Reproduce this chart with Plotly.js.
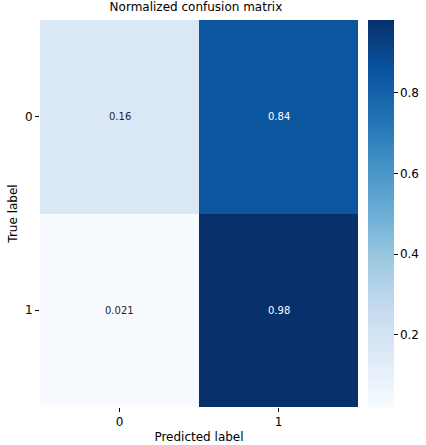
<!DOCTYPE html>
<html>
<head>
<meta charset="utf-8">
<script src="https://cdn.plot.ly/plotly-3.0.1.min.js"></script>
<style>html,body{margin:0;padding:0;background:#fff;}#chart{width:426px;height:445px;}</style>
</head>
<body>
<div id="chart"></div>
<script>
var xLabels = ["0", "1"];
var yLabels = ["0", "1"];
var values = [
  [0.16, 0.84],
  [0.021, 0.98]
];
var valueText = [
  ["0.16", "0.84"],
  ["0.021", "0.98"]
];
var colorbarTicks = [0.2, 0.4, 0.6, 0.8];
var colorbarTickText = ["0.2", "0.4", "0.6", "0.8"];

var blues = [
  [0.0, "#f7fbff"], [0.125, "#deebf7"], [0.25, "#c6dbef"], [0.375, "#9ecae1"],
  [0.5, "#6baed6"], [0.625, "#4292c6"], [0.75, "#2171b5"], [0.875, "#08519c"], [1.0, "#08306b"]
];
var zmin = Math.min.apply(null, values.map(function(r){return Math.min.apply(null, r);}));
var zmax = Math.max.apply(null, values.map(function(r){return Math.max.apply(null, r);}));

var annotations = [];
for (var i = 0; i < yLabels.length; i++) {
  for (var j = 0; j < xLabels.length; j++) {
    var v = values[i][j];
    var frac = (v - zmin) / (zmax - zmin);
    annotations.push({
      x: xLabels[j], y: yLabels[i], xref: "x", yref: "y",
      text: valueText[i][j], showarrow: false,
      font: {family: "DejaVu Sans", size: 10, color: frac > 0.5 ? "#ffffff" : "#262626"}
    });
  }
}

var trace = {
  type: "heatmap",
  x: xLabels, y: yLabels, z: values,
  colorscale: blues, zmin: zmin, zmax: zmax,
  xgap: 0, ygap: 0, hoverinfo: "none",
  colorbar: {
    x: 1.031, xanchor: "left", xpad: 0, ypad: 0,
    y: 0.5, yanchor: "middle", len: 1, lenmode: "fraction",
    thickness: 26, outlinewidth: 0,
    tickvals: colorbarTicks, ticktext: colorbarTickText,
    ticks: "outside", ticklen: 4, tickcolor: "#000",
    tickfont: {family: "DejaVu Sans", size: 12, color: "#000"}
  }
};

var layout = {
  width: 426, height: 445,
  margin: {l: 40, r: 68, t: 20, b: 38, autoexpand: false},
  paper_bgcolor: "#fff", plot_bgcolor: "#fff",
  title: {text: "Normalized confusion matrix", font: {family: "DejaVu Sans", size: 12, color: "#000"}, x: 0.46, xanchor: "center", y: 0.995, yanchor: "top"},
  xaxis: {
    type: "category", showgrid: false, zeroline: false, showline: false,
    ticks: "outside", ticklen: 4, tickcolor: "#000",
    tickfont: {family: "DejaVu Sans", size: 12, color: "#000"},
    title: {text: "Predicted label", font: {family: "DejaVu Sans", size: 12, color: "#000"}, standoff: 4}
  },
  yaxis: {
    type: "category", autorange: "reversed", showgrid: false, zeroline: false, showline: false,
    ticks: "outside", ticklen: 4, tickcolor: "#000",
    tickfont: {family: "DejaVu Sans", size: 12, color: "#000"},
    title: {text: "True label", font: {family: "DejaVu Sans", size: 12, color: "#000"}, standoff: 4}
  },
  annotations: annotations
};

Plotly.newPlot("chart", [trace], layout, {displayModeBar: false, staticPlot: true});
</script>
</body>
</html>
